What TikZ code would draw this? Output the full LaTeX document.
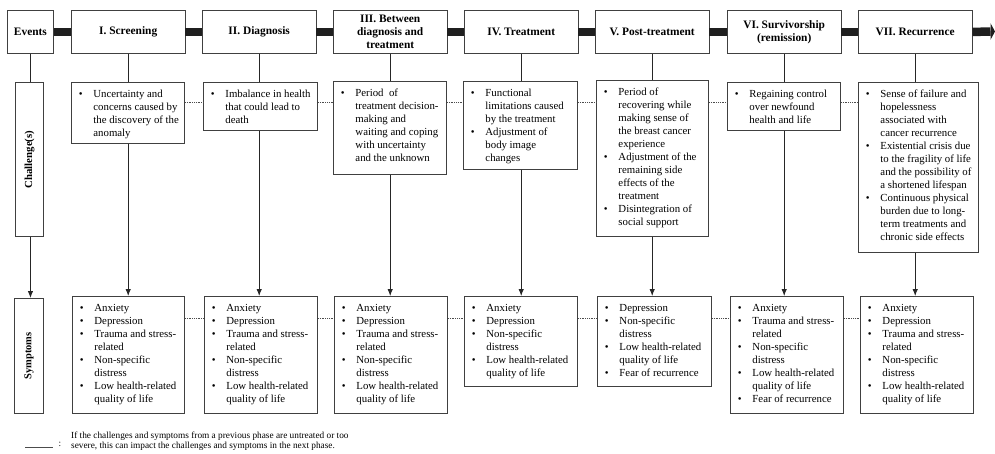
\documentclass[tikz,border=0pt]{standalone}
\usepackage{fontspec}
\setmainfont{Liberation Serif}
\usepackage{graphicx}
\usetikzlibrary{arrows.meta,calc}

\newcommand{\bu}{\makebox[14.5pt][l]{\textbullet}}
\newcommand{\cbox}[3]{\parbox[c][#2][t]{#1}{\vspace*{5.9pt}\fontsize{10.8}{13}\selectfont\begin{tabular}{@{\hspace{7.5pt}}l@{}l@{}}#3\end{tabular}}}
\newcommand{\symfull}{\bu & Anxiety\\ \bu & Depression\\ \bu & Trauma and stress-\\ & related\\ \bu & Non-specific\\ & distress\\ \bu & Low health-related\\ & quality of life}

\tikzset{
  hdr/.style={draw=black!75, line width=0.9pt, fill=white, inner sep=0pt, minimum width=113.5pt, minimum height=43pt, align=center, font=\fontsize{11.4}{13.3}\selectfont\bfseries, anchor=north west},
  txtbox/.style={draw=black!75, line width=0.9pt, fill=white, inner sep=0pt, anchor=north west},
  side/.style={draw=black!75, line width=0.9pt, fill=white, inner sep=0pt, anchor=north west, font=\fontsize{10.8}{12}\selectfont\bfseries},
  bar/.style={line width=8.5pt, draw=black!88},
  vline/.style={line width=0.9pt, draw=black!85},
  varrow/.style={line width=0.9pt, draw=black!85, -{Latex[length=7pt,width=5.5pt]}},
  dotl/.style={line width=0.8pt, draw=black!70, densely dotted},
}

\begin{document}
\begin{tikzpicture}[x=1pt,y=-1pt]
\useasboundingbox (0,0) rectangle (995,453);

% headers
\node[hdr, minimum width=46pt] (ev) at (7,10) {Events};
\node[hdr] (h1) at (71,10) {I. Screening};
\node[hdr] (h2) at (202,10) {II. Diagnosis};
\node[hdr] (h3) at (333,10) {III. Between\\diagnosis and\\treatment};
\node[hdr] (h4) at (464,10) {IV. Treatment};
\node[hdr] (h5) at (595,10) {V. Post-treatment};
\node[hdr] (h6) at (727,10) {VI. Survivorship\\(remission)};
\node[hdr] (h7) at (858,10) {VII. Recurrence};

% bar
\coordinate (barend) at (990.5,31.5);
\coordinate (bartip) at (995,31.5);
\draw[bar] (ev.east) -- (h1.west);
\draw[bar] (h1.east) -- (h2.west);
\draw[bar] (h2.east) -- (h3.west);
\draw[bar] (h3.east) -- (h4.west);
\draw[bar] (h4.east) -- (h5.west);
\draw[bar] (h5.east) -- (h6.west);
\draw[bar] (h6.east) -- (h7.west);
\draw[bar] (h7.east) -- (barend);
\fill[black!88] ($(barend)+(0,-8.3)$) -- (bartip) -- ($(barend)+(0,8.3)$) -- cycle;

% side labels
\node[side, minimum width=28pt, minimum height=154pt] (cl) at (15,82) {\rotatebox{90}{Challenge(s)}};
\node[side, minimum width=29pt, minimum height=115pt, font=\fontsize{10.5}{12}\selectfont\bfseries] (sl) at (14,298) {\rotatebox{90}{Symptoms}};

% challenge boxes
\node[txtbox] (c1) at (71,82) {\cbox{113pt}{61pt}{\bu & Uncertainty and\\ & concerns caused by\\ & the discovery of the\\ & anomaly}};
\node[txtbox] (c2) at (203,82) {\cbox{114pt}{48pt}{\bu & Imbalance in health\\ & that could lead to\\ & death}};
\node[txtbox] (c3) at (333,81) {\cbox{113pt}{93pt}{\bu & Period\ \ of\\ & treatment decision-\\ & making and\\ & waiting and coping\\ & with uncertainty\\ & and the unknown}};
\node[txtbox] (c4) at (463,81) {\cbox{114pt}{88pt}{\bu & Functional\\ & limitations caused\\ & by the treatment\\ \bu & Adjustment of\\ & body image\\ & changes}};
\node[txtbox] (c5) at (596,80) {\cbox{112pt}{156pt}{\bu & Period of\\ & recovering while\\ & making sense of\\ & the breast cancer\\ & experience\\ \bu & Adjustment of the\\ & remaining side\\ & effects of the\\ & treatment\\ \bu & Disintegration of\\ & social support}};
\node[txtbox] (c6) at (727,82) {\cbox{113pt}{48pt}{\bu & Regaining control\\ & over newfound\\ & health and life}};
\node[txtbox] (c7) at (858,82) {\cbox{120pt}{170pt}{\bu & Sense of failure and\\ & hopelessness\\ & associated with\\ & cancer recurrence\\ \bu & Existential crisis due\\ & to the fragility of life\\ & and the possibility of\\ & a shortened lifespan\\ \bu & Continuous physical\\ & burden due to long-\\ & term treatments and\\ & chronic side effects}};

% symptom boxes
\node[txtbox] (s1) at (72,296) {\cbox{112pt}{117pt}{\symfull}};
\node[txtbox] (s2) at (204,296) {\cbox{113pt}{117pt}{\symfull}};
\node[txtbox] (s3) at (334,296) {\cbox{113pt}{117pt}{\symfull}};
\node[txtbox] (s4) at (464,296) {\cbox{113pt}{90pt}{\bu & Anxiety\\ \bu & Depression\\ \bu & Non-specific\\ & distress\\ \bu & Low health-related\\ & quality of life}};
\node[txtbox] (s5) at (597,296) {\cbox{114pt}{90pt}{\bu & Depression\\ \bu & Non-specific\\ & distress\\ \bu & Low health-related\\ & quality of life\\ \bu & Fear of recurrence}};
\node[txtbox] (s6) at (730,296) {\cbox{113pt}{117pt}{\bu & Anxiety\\ \bu & Trauma and stress-\\ & related\\ \bu & Non-specific\\ & distress\\ \bu & Low health-related\\ & quality of life\\ \bu & Fear of recurrence}};
\node[txtbox] (s7) at (860,296) {\cbox{113pt}{117pt}{\symfull}};

% vertical connectors
\draw[vline] (ev.south) -- (ev.south |- cl.north);
\draw[varrow] (ev.south |- cl.south) -- (ev.south |- sl.north);
\foreach \i in {1,...,7}{
  \draw[vline] (h\i.south) -- (h\i.south |- c\i.north);
  \draw[varrow] (h\i.south |- c\i.south) -- (h\i.south |- s\i.north);
}

% dotted links
\coordinate (cy) at (0,102.5);
\coordinate (sy) at (0,318);
\foreach \a/\b in {1/2,2/3,3/4,4/5,5/6,6/7}{
  \draw[dotl] (c\a.east |- cy) -- (c\b.west |- cy);
  \draw[dotl] (s\a.east |- sy) -- (s\b.west |- sy);
}

% footnote
\coordinate (fa) at (25,447);
\coordinate (fb) at (53,447);
\draw[line width=0.6pt, black!70] (fa) -- (fb);
\node[anchor=base, inner sep=0pt, font=\fontsize{9.3}{9.7}\selectfont] (colon) at (60,446.5) {:};
\node[anchor=north west, align=left, inner sep=0pt, font=\fontsize{9.3}{9.7}\selectfont] (fn) at (71,432) {If the challenges and symptoms from a previous phase are untreated or too\\severe, this can impact the challenges and symptoms in the next phase.};
\end{tikzpicture}
\end{document}
